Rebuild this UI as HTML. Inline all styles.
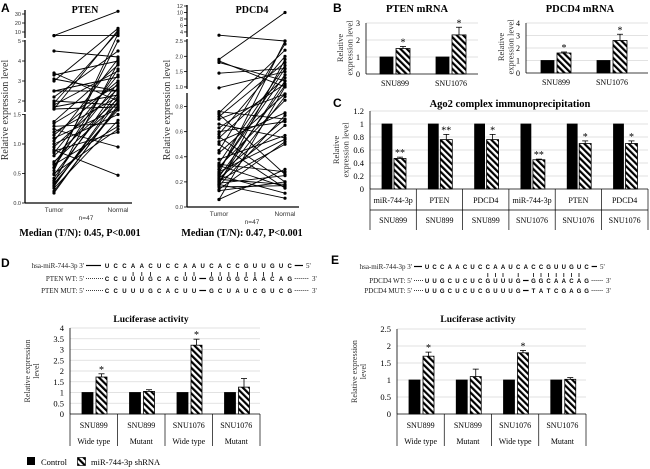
<!DOCTYPE html>
<html><head><meta charset="utf-8"><style>
html,body{margin:0;padding:0;background:#fff;}
svg{display:block;font-family:"Liberation Serif",serif;}
.sans{font-family:"Liberation Sans",sans-serif;}
</style></head><body>
<svg id="fig" width="650" height="469" viewBox="0 0 650 469" xmlns="http://www.w3.org/2000/svg">
<defs>
<pattern id="hatch" width="4.5" height="4.5" patternUnits="userSpaceOnUse" patternTransform="rotate(-45)">
<rect width="4.5" height="4.5" fill="#fff"/><rect width="2.2" height="4.5" fill="#000"/>
</pattern>
</defs>
<g class="sans" font-weight="bold" font-size="12">
<text x="1" y="12">A</text>
<text x="333" y="12">B</text>
<text x="333" y="107">C</text>
<text x="1" y="267">D</text>
<text x="331" y="264">E</text>
</g>
<g id="layer"></g>
</svg>
<script>
// ---------- data ----------
const ptenTumor = [6,6,4.5,3.4,3.3,3.1,3.0,2.5,2.5,2.2,2.0,1.9,1.8,1.7,1.6,1.6,1.38,1.35,1.3,1.25,1.2,1.15,1.1,1.05,1.0,0.95,0.9,0.88,0.85,0.8,0.7,0.68,0.65,0.6,0.55,0.5,0.48,0.42,0.38,0.35,0.33,0.3,0.28,0.25,0.2,0.17,0.6];
const ptenNormal = [6,33,4.2,2.0,4.0,2.5,14,2.5,3.2,4.5,1.8,10,3.5,2.3,1.7,12,3.8,2.8,1.35,0.95,2.2,3.0,1.6,4.1,1.5,2.6,0.47,1.2,3.3,2.1,1.9,2.9,1.3,3.6,8,1.25,2.4,2.7,1.55,3.9,1.65,2.0,2.2,1.4,1.7,1.8,5];
const pdcdTumor = [3.0,1.9,1.85,1.8,1.45,0.97,0.76,0.75,0.74,0.72,0.7,0.66,0.63,0.6,0.58,0.56,0.55,0.52,0.5,0.45,0.43,0.38,0.35,0.34,0.33,0.32,0.3,0.28,0.27,0.26,0.25,0.24,0.23,0.22,0.21,0.2,0.2,0.19,0.18,0.18,0.17,0.16,0.14,0.13,0.06,0.06,0.3];
const pdcdNormal = [2.5,10,1.0,1.2,1.6,1.5,0.7,2.2,0.26,1.8,0.9,0.55,1.1,0.68,2.0,0.2,1.3,0.75,0.15,2.4,0.9,0.57,1.7,0.28,0.16,0.85,1.4,0.54,2.5,0.7,0.11,1.05,0.65,0.18,0.5,0.88,1.2,0.25,0.07,1.9,0.73,0.17,0.52,0.2,1.0,0.3,1.6];
const ptenTicks = ["0.0","0.5","1.0","1.5","2","3","4","5","10","20","30"];
const pdcdTicks = ["0.0","0.2","0.4","0.6","0.8","1.0","1.5","2.0","2.5","4","6","8","10","12"];

const bCats = ["SNU899","SNU1076"];
const bPtenCtrl = [1,1], bPtenSh = [1.5,2.3], bPtenErr = [0.12,0.45];
const bPdcdCtrl = [1,1], bPdcdSh = [1.6,2.6], bPdcdErr = [0.08,0.5];
const bPtenTicks = ["0","1","2","3"], bPdcdTicks = ["0","1","2","3","4"];

const cGenes = ["miR-744-3p","PTEN","PDCD4","miR-744-3p","PTEN","PDCD4"];
const cCells = ["SNU899","SNU899","SNU899","SNU1076","SNU1076","SNU1076"];
const cCtrl = [1,1,1,1,1,1];
const cSh = [0.47,0.76,0.76,0.45,0.70,0.70];
const cErr = [0.02,0.08,0.08,0.01,0.04,0.04];
const cStars = ["**","**","*","**","*","*"];
const cTicks = ["0","0.2","0.4","0.6","0.8","1","1.2"];

const lucCells = ["SNU899","SNU899","SNU1076","SNU1076"];
const lucTypes = ["Wide type","Mutant","Wide type","Mutant"];
const dCtrl = [1,1,1,1], dSh = [1.72,1.05,3.2,1.25], dErr = [0.15,0.08,0.28,0.4], dStars=["*","","*",""];
const eCtrl = [1,1,1,1], eSh = [1.7,1.1,1.8,1.02], eErr = [0.12,0.22,0.07,0.05], eStars=["*","","*",""];
const dTicks = ["0","0.5","1","1.5","2","2.5","3","3.5","4"];
const eTicks = ["0","0.5","1","1.5","2","2.5"];

// ---------- helpers ----------
const NS="http://www.w3.org/2000/svg";
const layer=document.getElementById('layer');
function mk(tag,attrs,parent,txt){const e=document.createElementNS(NS,tag);for(const k in attrs)e.setAttribute(k,attrs[k]);if(txt!==undefined)e.textContent=txt;(parent||layer).appendChild(e);return e;}
function grp(name){const g=mk('g',{});


return g;}

function segScale(segs){return v=>{for(const s of segs){if(v<=s[1]||s===segs[segs.length-1]){return s[2]+(v-s[0])/(s[1]-s[0])*(s[3]-s[2]);}}};}
const yPten = segScale([[0,1.5,203,114.5],[1.5,5,111,41],[5,35,36.5,9.5]]);
const yPdcd = segScale([[0,0.9,207,94],[0.9,2.5,90,41],[2.6,12,36.5,6]]);

function scatterPanel(name,axX,xT,xN,tumor,normal,yS,ticks,breaks,title,titleX,median,medX){
  const g=grp(name);
  breaks.forEach(b=>{const l=mk('line',{x1:axX,x2:axX,y1:b[0],y2:b[1],stroke:'#000','stroke-width':1.3},g);
    
    });
  const xl=mk('line',{x1:axX,x2:xN+14,y1:breaks[breaks.length-1][1],y2:breaks[breaks.length-1][1],stroke:'#000','stroke-width':1.3},g);
  
  
  ticks.forEach(t=>{const y=yS(parseFloat(t));
    mk('line',{x1:axX-3,x2:axX,y1:y,y2:y,stroke:'#000','stroke-width':0.8},g);
    const tx=mk('text',{x:axX-4,y:y+2,'font-size':5.5,'text-anchor':'end',fill:'#333',class:'sans'},g,t);
    
    });
  const n=Math.min(tumor.length,normal.length);
  for(let i=0;i<n;i++){
    const ln=mk('line',{x1:xT,y1:yS(tumor[i]),x2:xN,y2:yS(normal[i]),stroke:'#000','stroke-width':0.9},g);
    
    
    const c1=mk('circle',{cx:xT,cy:yS(tumor[i]),r:1.6,fill:'#000'},g);
    
    
    const c2=mk('circle',{cx:xN,cy:yS(normal[i]),r:1.6,fill:'#000'},g);
    
    
  }
  const by=breaks[breaks.length-1][1];
  let t=mk('text',{x:xT,y:by+9,'font-size':6.5,'text-anchor':'middle',class:'sans',fill:'#333'},g,'Tumor');
  
  t=mk('text',{x:xN,y:by+9,'font-size':6.5,'text-anchor':'middle',class:'sans',fill:'#333'},g,'Normal');
  
  t=mk('text',{x:(xT+xN)/2,y:by+17,'font-size':6.5,'text-anchor':'middle',class:'sans',fill:'#333'},g,'n=47');
  
  t=mk('text',{x:titleX,y:13,'font-size':10,'font-weight':'bold','text-anchor':'middle'},g,title);
  
  t=mk('text',{x:medX,y:236,'font-size':10,'font-weight':'bold','text-anchor':'middle'},g,median);
  
  t=mk('text',{x:0,y:0,'font-size':10,'text-anchor':'middle',fill:'#333',transform:`translate(${axX-17},110) rotate(-90)`},g,'Relative expression level');
  
}
scatterPanel('pten-scatter',25,54,118,ptenTumor,ptenNormal,yPten,ptenTicks,[[10,38],[40,112],[114,203]],'PTEN',85,'Median  (T/N):  0.45, P<0.001',80);
scatterPanel('pdcd4-scatter',187,219,285,pdcdTumor,pdcdNormal,yPdcd,pdcdTicks,[[5,37],[39,89],[93,207]],'PDCD4',252,'Median  (T/N):  0.47, P<0.001',242);

function bar(g,x,y0,y1,w,hatch,name){
  const r=mk('rect',{x:x,y:Math.min(y0,y1),width:w,height:Math.abs(y0-y1),fill:hatch?'url(#hatch)':'#000',stroke:'#000','stroke-width':0.8},g);
  
  
}
function errBar(g,x,yTop,yErr){
  mk('line',{x1:x,x2:x,y1:yTop,y2:yErr,stroke:'#000','stroke-width':0.8},g);
  mk('line',{x1:x-3,x2:x+3,y1:yErr,y2:yErr,stroke:'#000','stroke-width':0.8},g);
}
function yAxis(g,x,x2,ticks,ys,fs){
  ticks.forEach(t=>{const y=ys(parseFloat(t));
    if(parseFloat(t)>0)mk('line',{x1:x,x2:x2,y1:y,y2:y,stroke:'#d9d9d9','stroke-width':0.8},g);
    const tx=mk('text',{x:x-6,y:y+3,'font-size':fs,'text-anchor':'end'},g,t);
    
    });
  const a=mk('line',{x1:x,x2:x,y1:ys(parseFloat(ticks[ticks.length-1])),y2:ys(0),stroke:'#000','stroke-width':0.8},g);
  
  
  const b=mk('line',{x1:x,x2:x2,y1:ys(0),y2:ys(0),stroke:'#000','stroke-width':0.8},g);
  
  
}
function ytitle(g,x,y,lines,fs){
  const t=mk('text',{'font-size':fs,'text-anchor':'middle',fill:'#333',transform:`translate(${x},${y}) rotate(-90)`},g);
  lines.forEach((l,i)=>mk('tspan',{x:0,dy:i?fs+1:0},t,l));
  
  
}

function panelB(name,axX,axR,y0,pxPer,ticks,ctrl,sh,err,cellX,title,titleX){
  const g=grp(name);const ys=v=>y0-v*pxPer;
  yAxis(g,axX,axR,ticks,ys,8);
  bCats.forEach((c,i)=>{const cx=cellX[i];
    bar(g,cx,ys(0),ys(ctrl[i]),13,false,'control-bar');
    bar(g,cx+16,ys(0),ys(sh[i]),14,true,'shrna-bar');
    errBar(g,cx+23,ys(sh[i]),ys(sh[i]+err[i]));
    const st=mk('text',{x:cx+23,y:ys(sh[i]+err[i])-1,'font-size':10,'text-anchor':'middle'},g,'*');
    
    const l=mk('text',{x:cx+15,y:y0+12,'font-size':8,'text-anchor':'middle'},g,c);
    
  });
  const t=mk('text',{x:titleX,y:12,'font-size':10.5,'font-weight':'bold','text-anchor':'middle'},g,title);
  
}
panelB('pten-mrna-chart',366,478,74,17,bPtenTicks,bPtenCtrl,bPtenSh,bPtenErr,[380,436],'PTEN  mRNA',417);
ytitle(layer,343,48,['Relative','expression level'],8.5);
panelB('pdcd4-mrna-chart',526,648,73,12.5,bPdcdTicks,bPdcdCtrl,bPdcdSh,bPdcdErr,[541,597],'PDCD4  mRNA',580);
ytitle(layer,504,47,['Relative','expression level'],8.5);

(function(){
  const g=grp('ago2-chart');const y0=189,pp=65;const ys=v=>y0-v*pp;
  yAxis(g,370,648,cTicks,ys,8.5);
  const cw=46.3;
  cGenes.forEach((gname,i)=>{const cx=370+i*cw;
    bar(g,cx+12,ys(0),ys(cCtrl[i]),10,false,'control-bar');
    bar(g,cx+24,ys(0),ys(cSh[i]),12,true,'shrna-bar');
    errBar(g,cx+30,ys(cSh[i]),ys(cSh[i]+cErr[i]));
    const st=mk('text',{x:cx+30,y:ys(cSh[i]+cErr[i])-1,'font-size':10,'text-anchor':'middle'},g,cStars[i]);
    
    mk('line',{x1:cx,x2:cx,y1:y0,y2:230,stroke:'#000','stroke-width':0.7},g);
    let l=mk('text',{x:cx+cw/2,y:203,'font-size':8,'text-anchor':'middle'},g,gname);
    
    l=mk('text',{x:cx+cw/2,y:223,'font-size':8,'text-anchor':'middle'},g,cCells[i]);
    
  });
  mk('line',{x1:648,x2:648,y1:y0,y2:230,stroke:'#000','stroke-width':0.7},g);
  mk('line',{x1:370,x2:648,y1:210,y2:210,stroke:'#000','stroke-width':0.7},g);
  const t=mk('text',{x:510,y:107,'font-size':10.5,'font-weight':'bold','text-anchor':'middle'},g,'Ago2 complex immunoprecipitation');
  
  ytitle(g,339,150,['Relative','expression level'],8.5);
})();

function seqRow(g,label,lx,seq,x0,step,y,tailX,endLbl,leftDots){
  const t=mk('text',{x:lx,y:y,'font-size':7,'text-anchor':'end',fill:'#222'},g,label);
  
  if(leftDots) mk('line',{x1:lx+2,x2:x0-4,y1:y-2.5,y2:y-2.5,stroke:'#000','stroke-width':0.8,'stroke-dasharray':leftDots},g);
  seq.split('').forEach((c,i)=>{const x=x0+i*step;
    if(c==='-'){mk('line',{x1:x-step/2+1,x2:x+step/2-1,y1:y-2.5,y2:y-2.5,stroke:'#000','stroke-width':1.2},g);}
    else {const s=mk('text',{x:x,y:y,'font-size':6,'font-weight':'bold','text-anchor':'middle',class:'sans'},g,c);
      }
  });
  const xe=x0+(seq.length-1)*step+5;
  mk('line',{x1:xe,x2:tailX-3,y1:y-2.5,y2:y-2.5,stroke:'#000','stroke-width':leftDots?0.8:1.2,'stroke-dasharray':leftDots||'none'},g);
  mk('text',{x:tailX,y:y,'font-size':7,fill:'#222'},g,endLbl);
}
function pairs(g,idx,x0,step,y){idx.forEach(i=>mk('line',{x1:x0+i*step,x2:x0+i*step,y1:y-3,y2:y+1,stroke:'#000','stroke-width':0.8},g));}
(function(){
  const g=grp('pten-sequences');const x0=107,st=8.7;
  seqRow(g,"hsa-miR-744-3p 3'",84,"UCCAACUCCAAUCACCGUUGUC",x0,st,268,306,"5'",null);
  mk('line',{x1:86,x2:101,y1:265.5,y2:265.5,stroke:'#000','stroke-width':1.2},g);
  pairs(g,[3,4,5,9,10,12,13,14,15,16,17,18,19],x0,st,275);
  seqRow(g,"PTEN WT: 5'",84,"CCUUUGCACUU-GUGGCAACAG",x0,st,281,312,"3'",'1,1');
  seqRow(g,"PTEN MUT: 5'",84,"CCUUUGCACUU-GCUAUCGUCG",x0,st,293,312,"3'",'1,1');
})();
(function(){
  const g=grp('pdcd4-sequences');const x0=427,st=7.6;
  seqRow(g,"hsa-miR-744-3p 3'",412,"UCCAACUCCAAUCACCGUUGUC",x0,st,269,600,"5'",null);
  mk('line',{x1:414,x2:422,y1:266.5,y2:266.5,stroke:'#000','stroke-width':1.2},g);
  pairs(g,[8,9,10,12,14,15,16,17,18,19,20],x0,st,276);
  seqRow(g,"PDCD4 WT: 5'",412,"UUGCUCUCGUUUG-GGCAACAG",x0,st,283,606,"3'",'1,1');
  seqRow(g,"PDCD4 MUT: 5'",412,"UUGCUCUCGUUUG-TATCGAGG",x0,st,293,606,"3'",'1,1');
})();

function lucPanel(name,axX,axR,y0,pp,ticks,ctrl,sh,err,stars,titleX,titleY,ytX){
  const g=grp(name);const ys=v=>y0-v*pp;
  yAxis(g,axX,axR,ticks,ys,8.5);
  const cw=(axR-axX)/4;
  lucCells.forEach((c,i)=>{const cx=axX+i*cw;
    bar(g,cx+12,ys(0),ys(ctrl[i]),11,false,'control-bar');
    bar(g,cx+26,ys(0),ys(sh[i]),11,true,'shrna-bar');
    errBar(g,cx+31.5,ys(sh[i]),ys(sh[i]+err[i]));
    if(stars[i]){const s=mk('text',{x:cx+31.5,y:ys(sh[i]+err[i])-1,'font-size':10,'text-anchor':'middle'},g,stars[i]);
      }
    mk('line',{x1:cx,x2:cx,y1:y0,y2:446,stroke:'#000','stroke-width':0.7},g);
    let l=mk('text',{x:cx+cw/2,y:428,'font-size':8,'text-anchor':'middle'},g,c);
    
    l=mk('text',{x:cx+cw/2,y:444,'font-size':8,'text-anchor':'middle'},g,lucTypes[i]);
    
  });
  mk('line',{x1:axR,x2:axR,y1:y0,y2:446,stroke:'#000','stroke-width':0.7},g);
  const t=mk('text',{x:titleX,y:titleY,'font-size':9.5,'font-weight':'bold','text-anchor':'middle'},g,'Luciferase activity');
  
  ytitle(g,ytX,(ys(parseFloat(ticks[ticks.length-1]))+y0)/2,['Relative expression','level'],8);
}
lucPanel('pten-luciferase-chart',70,260,414,21.5,dTicks,dCtrl,dSh,dErr,dStars,151,322,30);
lucPanel('pdcd4-luciferase-chart',397,586,414,34,eTicks,eCtrl,eSh,eErr,eStars,478,322,357);

(function(){
  const g=grp('legend');
  const a=mk('rect',{x:27,y:457,width:8,height:8,fill:'#000'},g);
  
  let t=mk('text',{x:41,y:465,'font-size':8.5},g,'Control');
  
  const b=mk('rect',{x:77.5,y:457.5,width:8,height:8,fill:'url(#hatch)',stroke:'#000','stroke-width':0.7},g);
  
  t=mk('text',{x:91,y:465,'font-size':8.5},g,'miR-744-3p  shRNA');
  
})();
</script>
</body></html>
